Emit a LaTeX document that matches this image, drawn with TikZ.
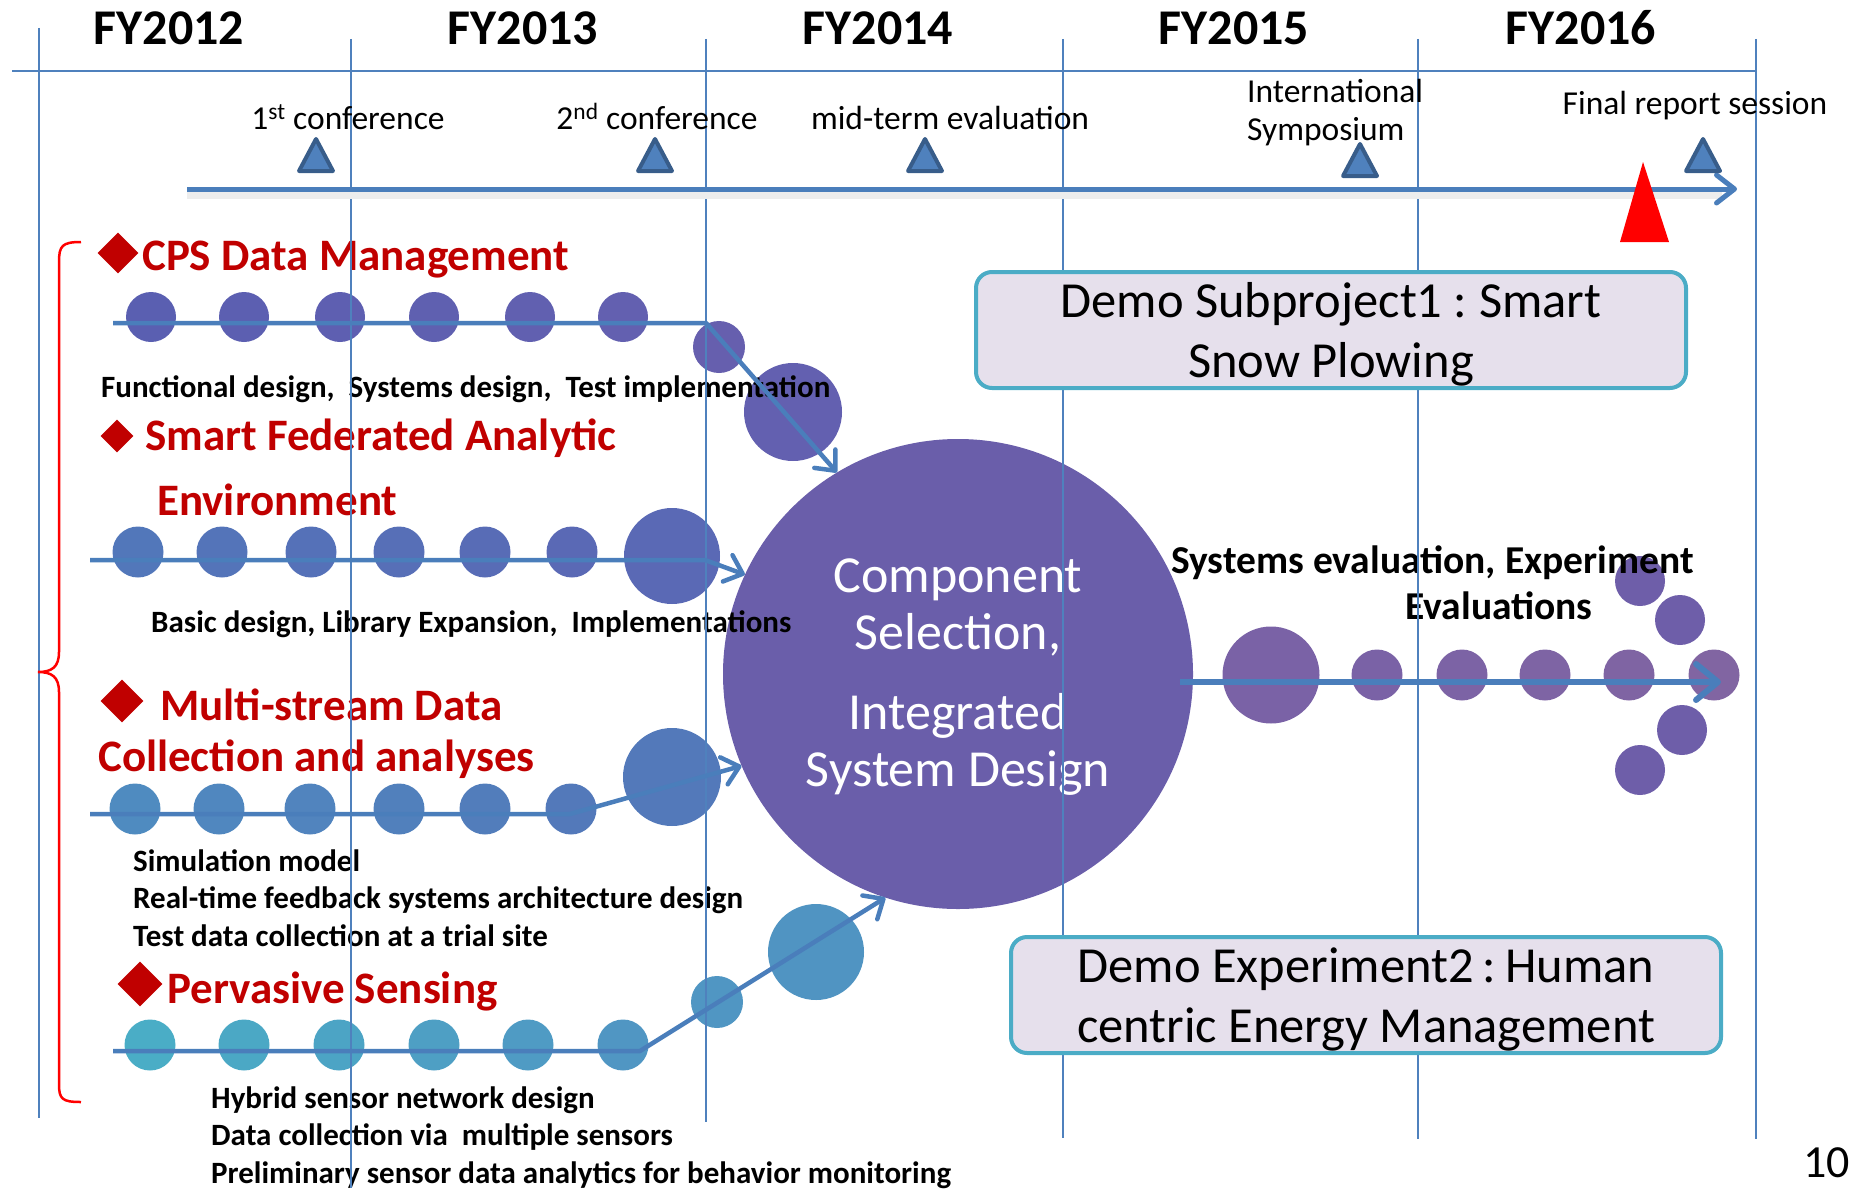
\documentclass[tikz,border=0pt]{standalone}
\usepackage{fontspec}
\setmainfont{Carlito}
\usetikzlibrary{arrows.meta,shapes.geometric}

\definecolor{gridblue}{HTML}{4F81BD}
\definecolor{flowblue}{HTML}{4A7EBB}
\definecolor{miledark}{HTML}{385D8A}
\definecolor{titlered}{HTML}{C00000}
\definecolor{coreviolet}{HTML}{6A5EAA}
\definecolor{demoedge}{HTML}{4BACC6}
\definecolor{demofill}{HTML}{E6E0EC}
% dot colours, left and right end of each row
\definecolor{cpsL}{HTML}{5A5FB1}
\definecolor{cpsR}{HTML}{6360B0}
\definecolor{sfaL}{HTML}{5277BA}
\definecolor{sfaR}{HTML}{5A69B5}
\definecolor{msdL}{HTML}{4F8BC0}
\definecolor{msdR}{HTML}{5379BA}
\definecolor{pvsL}{HTML}{4AADC6}
\definecolor{pvsR}{HTML}{5096C3}
\definecolor{evalL}{HTML}{7A62A6}
\definecolor{evalR}{HTML}{8165A2}
\definecolor{fan}{HTML}{6E5EA9}

\tikzset{
  gridline/.style={gridblue, line width=2.5pt},
  year/.style={font=\fontsize{50}{60}\selectfont\bfseries, anchor=base, inner sep=0},
  event/.style={font=\fontsize{33.5}{38}\selectfont, anchor=base, inner sep=0},
  milestone/.style={fill=gridblue, draw=miledark, line width=4pt, line join=round},
  theme/.style={text=titlered, font=\fontsize{45}{52}\selectfont\bfseries, anchor=base west, inner sep=0},
  bullet/.style={diamond, fill=titlered, inner sep=0, minimum size=#1},
  task/.style={font=\fontsize{31}{37.5}\selectfont\bfseries, anchor=base west, align=left, inner sep=0},
  dot/.style={circle, inner sep=0, minimum size=#1},
  flow/.style={flowblue, line width=4.5pt, line join=round},
  flowtip/.style={flow, -{Straight Barb[length=16pt, width=28pt, round]}},
  core/.style={circle, fill=coreviolet, minimum size=470pt, inner sep=0},
  demo/.style={draw=demoedge, line width=4pt, fill=demofill, rounded corners=16pt,
    minimum width=710pt, minimum height=116pt, inner sep=0},
  demotext/.style={font=\fontsize{50.5}{59.5}\selectfont, align=center, anchor=base, inner sep=0}
}

\begin{document}
\begin{tikzpicture}[x=1pt,y=-1pt]
  \useasboundingbox (0,0) rectangle (1854,1188);

  % fiscal years
  \foreach \x/\fy in {169/FY2012, 523/FY2013, 878/FY2014, 1234/FY2015, 1581/FY2016}
    \node[year] (\fy) at (\x,45) {\fy};

  % dots of the four work streams
  \foreach \x [count=\i, evaluate=\i as \p using int((\i-1)*20)] in {151,244,340,434,530,623}
    \node[dot=50pt, fill=cpsR!\p!cpsL] (cps\i) at (\x,317) {};
  \node[dot=52pt, fill=cpsR!60!coreviolet] (cps7) at (719,347) {};
  \node[dot=98pt, fill=cpsR] (cps8) at (793,412) {};

  \foreach \x [count=\i, evaluate=\i as \p using int((\i-1)*20)] in {138,222,311,399,485,572}
    \node[dot=51pt, fill=sfaR!\p!sfaL] (sfa\i) at (\x,552) {};
  \node[dot=96pt, fill=sfaR] (sfa7) at (672,556) {};

  \foreach \x [count=\i, evaluate=\i as \p using int((\i-1)*20)] in {135,219,310,399,485,571}
    \node[dot=51pt, fill=msdR!\p!msdL] (msd\i) at (\x,809) {};
  \node[dot=98pt, fill=msdR] (msd7) at (672,777) {};

  \foreach \x [count=\i, evaluate=\i as \p using int((\i-1)*20)] in {150,244,339,434,528,623}
    \node[dot=51pt, fill=pvsR!\p!pvsL] (pvs\i) at (\x,1045) {};
  \node[dot=52pt, fill=pvsR] (pvs7) at (717,1002) {};
  \node[dot=96pt, fill=pvsR!90!gridblue] (pvs8) at (816,952) {};

  % evaluation stream
  \node[dot=97pt, fill=evalL] (ev0) at (1271,675) {};
  \foreach \x [count=\i, evaluate=\i as \p using int((\i-1)*25)] in {1377,1462,1545,1629,1714}
    \node[dot=51pt, fill=evalR!\p!evalL] (ev\i) at (\x,675) {};
  \foreach \x/\y [count=\i] in {1640/581, 1680/620, 1682/730, 1640/770}
    \node[dot=50pt, fill=fan] (fan\i) at (\x,\y) {};

  % integration
  \node[core] (core) at (958,674) {};
  \node[font=\fontsize{52}{57}\selectfont, text=white, align=center, anchor=base]
    (core-text) at (958,786) {Component\\Selection,\\[23pt]Integrated\\System Design};

  % stream titles
  \node[bullet=41pt] (cps-mark) at (118,253) {};
  \node[theme] (cps-title) at (142,270) {CPS Data Management};
  \node[bullet=33pt] (sfa-mark) at (117,436) {};
  \node[theme] (sfa-title) at (145,450) {Smart Federated Analytic};
  \node[theme] (sfa-title2) at (157,515) {Environment};
  \node[bullet=43pt] (msd-mark) at (122,701) {};
  \node[theme] (msd-title) at (160,720) {Multi-stream Data};
  \node[theme] (msd-title2) at (98,771) {Collection and analyses};
  \node[bullet=45pt] (pvs-mark) at (140,984) {};
  \node[theme] (pvs-title) at (167,1003) {Pervasive Sensing};

  \node[task] (cps-task) at (101,397) {Functional design,~~Systems design,~~Test implementation};
  \node[task] (sfa-task) at (151,632) {Basic design, Library Expansion,~~Implementations};
  \node[task] (msd-task) at (133,946) {Simulation model\\Real-time feedback systems architecture design\\Test data collection at a trial site};
  \node[task] (pvs-task) at (211,1183) {Hybrid sensor network design\\Data collection via~~multiple sensors\\Preliminary sensor data analytics for behavior monitoring};

  \node[task, font=\fontsize{39.5}{46}\selectfont\bfseries] (eval-text) at (1171,573) {Systems evaluation, Experiment};
  \node[task, font=\fontsize{39.5}{46}\selectfont\bfseries, anchor=base] (eval-text2) at (1499,619) {Evaluations};

  % year grid
  \draw[gridline] (12,71) -- (1756,71);
  \foreach \x/\ya/\yb in {39/28/1118, 351/39/1188, 706/39/1122, 1063/39/1138, 1418/39/1139, 1756/39/1139}
    \draw[gridline] (\x,\ya) -- (\x,\yb);

  % flows into and out of the integration step
  \coordinate (cps-in) at (113,323);
  \coordinate (cps-bend) at (706,323);
  \draw[flowtip] (cps-in) -- (cps-bend) -- (core.121);
  \coordinate (sfa-in) at (90,560);
  \coordinate (sfa-bend) at (705,560);
  \draw[flowtip] (sfa-in) -- (sfa-bend) -- (core.155);
  \coordinate (msd-in) at (90,814);
  \coordinate (msd-bend) at (570,814);
  \draw[flowtip] (msd-in) -- (msd-bend) -- (core.203);
  \coordinate (pvs-in) at (113,1051);
  \coordinate (pvs-bend) at (640,1051);
  \draw[flowtip] (pvs-in) -- (pvs-bend) -- (core.252);
  \coordinate (ev-out) at (1180,682);
  \coordinate (ev-tip) at (1721,682);
  \draw[flow, line width=6pt, -{Straight Barb[length=22pt, width=36pt, round]}] (ev-out) -- (ev-tip);

  % timeline with milestones
  \coordinate (tl-start) at (187,189);
  \coordinate (tl-end) at (1737,189);
  \draw[black!7, line width=8pt, transform canvas={yshift=-6pt}] (tl-start) -- (1722,189);
  \draw[flow, line width=5pt, -{Straight Barb[length=18pt, width=28pt, round]}] (tl-start) -- (tl-end);
  \foreach \x/\y in {316/171, 655/171, 925/171, 1360/176, 1703/171}
    \filldraw[milestone] (\x-17,\y) -- (\x,\y-32) -- (\x+17,\y) -- cycle;
  \fill[red] (1620,242) -- (1643,162) -- (1669,242) -- cycle;

  \node[event] (conf1) at (348,129) {1\textsuperscript{st} conference};
  \node[event] (conf2) at (657,129) {2\textsuperscript{nd} conference};
  \node[event] (midterm) at (950,129) {mid-term evaluation};
  \node[event, anchor=base west, align=left] (symp) at (1247,140) {International\\Symposium};
  \node[event] (final) at (1695,114) {Final report session};

  % bracket round the four streams
  \draw[red, line width=2.5pt] (81,242) .. controls (62,242) and (59,246) .. (59,262)
    -- (59,652) .. controls (59,667) and (52,672) .. (38,672)
    .. controls (52,672) and (59,677) .. (59,692) -- (59,1084)
    .. controls (59,1099) and (62,1102) .. (81,1102);

  % demonstration projects
  \node[demo] (demo1) at (1331,330) {};
  \node[demotext] (demo1-text) at (demo1.center |- 0,377)
    {Demo Subproject1\hspace{11pt}:\hspace{12pt}Smart\\Snow Plowing};
  \node[demo] (demo2) at (1366,995) {};
  \node[demotext] (demo2-text) at (demo2.center |- 0,1042)
    {Demo Experiment2\hspace{9pt}:\hspace{9pt}Human\\centric Energy Management};

  \node[font=\fontsize{46}{50}\selectfont, anchor=base east, inner sep=0] (page) at (1850,1177) {10};
\end{tikzpicture}
\end{document}
